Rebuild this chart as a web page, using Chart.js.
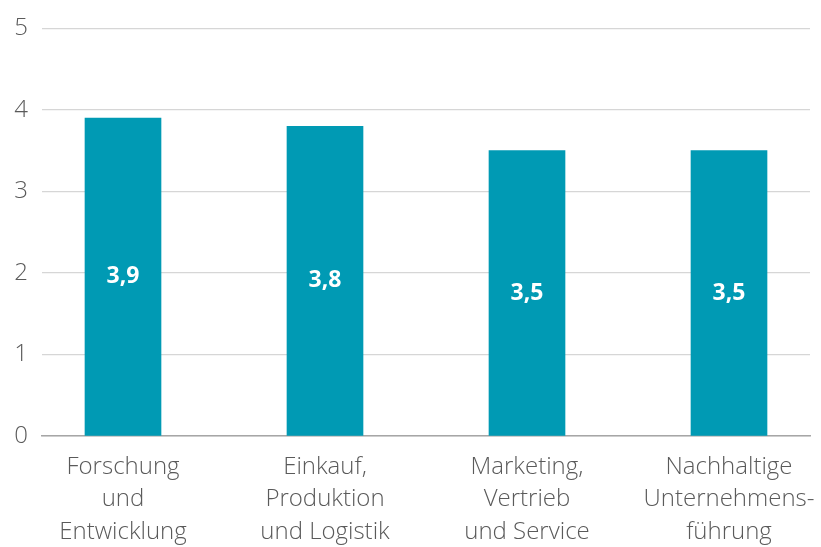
<!DOCTYPE html>
<html>
<head>
<meta charset="utf-8">
<script src="https://cdn.jsdelivr.net/npm/chart.js@4"></script>
<style>
  html, body { margin: 0; padding: 0; background: #ffffff; }
  #wrap { width: 821px; height: 547px; position: relative; }
</style>
</head>
<body>
<div id="wrap"><canvas id="chart"></canvas></div>
<script>
// categories (multi-line labels) and values
const categories = [
  ["Forschung", "und", "Entwicklung"],
  ["Einkauf,", "Produktion", "und Logistik"],
  ["Marketing,", "Vertrieb", "und Service"],
  ["Nachhaltige", "Unternehmens-", "führung"]
];
const values = [3.9, 3.8, 3.5, 3.5];
const yTicks = [0, 1, 2, 3, 4, 5];

const barColor = "#009ab4";
const textColor = "#5a5a5a";
const fontFamily = "'Open Sans', 'Noto Sans', sans-serif";

// writes the value in the middle of each bar
const valueLabels = {
  id: "valueLabels",
  afterDatasetsDraw(chart) {
    const ctx = chart.ctx;
    const meta = chart.getDatasetMeta(0);
    ctx.save();
    ctx.fillStyle = "#ffffff";
    ctx.font = "bold 23px " + fontFamily;
    ctx.textAlign = "center";
    ctx.textBaseline = "middle";
    meta.data.forEach(function(bar, i) {
      let mid = (bar.y + bar.base) / 2;
      ctx.fillText(values[i].toFixed(1).replace(".", ","), bar.x, mid);
    });
    ctx.restore();
  }
};

let points = values.map((v, i) => ({ x: i, y: v }));

new Chart(document.getElementById("chart"), {
  type: "bar",
  data: {
    datasets: [{
      data: points,
      backgroundColor: barColor,
      barThickness: 76
    }]
  },
  options: {
    responsive: true,
    maintainAspectRatio: false,
    animation: false,
    layout: { padding: { top: 27, right: 11, bottom: 0, left: 0 } },
    plugins: {
      legend: { display: false },
      tooltip: { enabled: false }
    },
    scales: {
      x: {
        type: "linear",
        offset: false,
        min: -0.401,
        max: 3.401,
        grid: { display: false, drawTicks: false },
        border: { display: true, color: "#a6a6a6", width: 1.5 },
        afterBuildTicks: function(scale) {
          scale.ticks = categories.map((c, i) => ({ value: i }));
        },
        afterFit: function(scale) {
          scale.height = 111;
          scale.paddingLeft = 0;
          scale.paddingRight = 0;
        },
        ticks: {
          autoSkip: false,
          maxRotation: 0,
          padding: 15,
          color: textColor,
          font: { family: fontFamily, size: 24, weight: "300", lineHeight: 1.35 },
          callback: function(value) { return categories[value]; }
        }
      },
      y: {
        min: 0,
        max: 5,
        afterBuildTicks: function(scale) {
          scale.ticks = yTicks.map(v => ({ value: v }));
        },
        afterFit: function(scale) { scale.width = 42; },
        grid: { color: "#d6d6d6", lineWidth: 1.2, drawTicks: false },
        border: { display: false },
        ticks: {
          padding: 14,
          color: textColor,
          font: { family: fontFamily, size: 24, weight: "300" }
        }
      }
    }
  },
  plugins: [valueLabels]
});
</script>
</body>
</html>
